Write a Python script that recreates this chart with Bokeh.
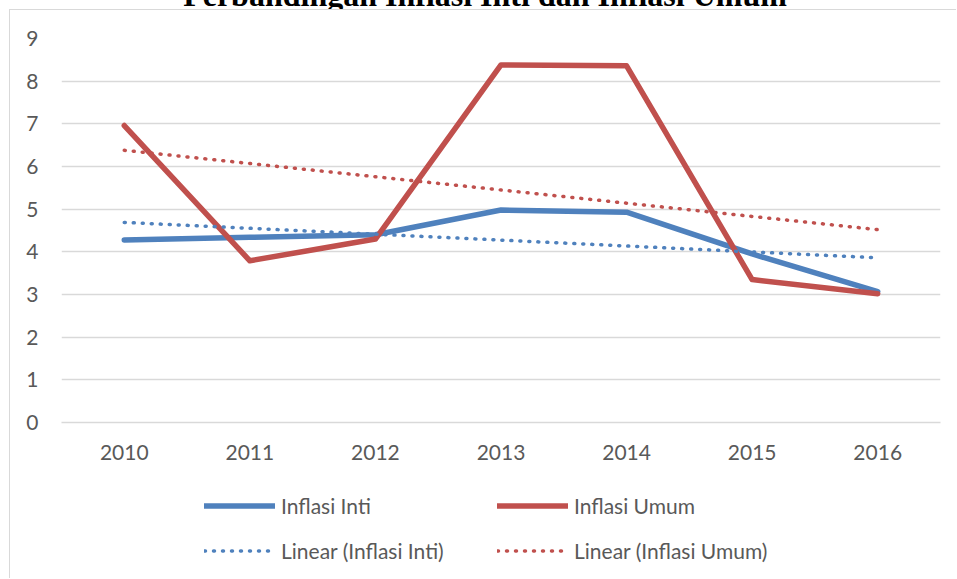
from bokeh.plotting import figure
from bokeh.models import Range1d, Legend, LegendItem, FixedTicker, Div
from bokeh.layouts import column
from bokeh.embed import file_html
from bokeh.resources import INLINE

# ---- data ----
years = ["2010", "2011", "2012", "2013", "2014", "2015", "2016"]
inflasi_inti = [4.28, 4.34, 4.40, 4.98, 4.93, 3.95, 3.07]
inflasi_umum = [6.96, 3.79, 4.30, 8.38, 8.36, 3.35, 3.02]
trend_years = ["2010", "2016"]
trend_inti = [4.69, 3.86]
trend_umum = [6.38, 4.52]
y_ticks = [0, 1, 2, 3, 4, 5, 6, 7, 8, 9]
title_text = "Perbandingan Inflasi Inti dan Inflasi Umum"
labels = ["Inflasi Inti", "Inflasi Umum", "Linear (Inflasi Inti)", "Linear (Inflasi Umum)"]

BLUE = "#4f81bd"
RED = "#c0504d"
GRID = "#d9d9d9"
TXT = "#595959"
FONT = "Lato"
BORDER = "1px solid #d9d9d9"

title_html = (
    '<div style="position:relative; top:-21px; left:0px; width:957px; padding-left:13px; '
    'box-sizing:border-box; text-align:center; white-space:nowrap; '
    'font-family:\'Liberation Serif\'; font-weight:bold; font-size:32px; line-height:32px; color:black;">'
    + title_text + '</div>'
)
title_div = Div(text=title_html, width=957, height=9,
                styles={"overflow": "hidden", "margin": "0", "padding": "0"})

# ---- main chart ----
p = figure(width=947, height=460, x_range=years, y_range=Range1d(0, 9),
           output_backend="svg", toolbar_location=None,
           min_border_left=51, min_border_right=17, min_border_top=28, min_border_bottom=48,
           styles={"margin-left": "9px", "border-left": BORDER, "border-top": BORDER})
p.outline_line_color = None
p.background_fill_color = "white"
p.border_fill_color = "white"

p.xgrid.grid_line_color = None
p.ygrid.grid_line_color = GRID
p.ygrid.grid_line_width = 1.5
p.yaxis.ticker = FixedTicker(ticks=y_ticks)

for ax in (p.xaxis, p.yaxis):
    ax.major_tick_line_color = None
    ax.minor_tick_line_color = None
    ax.major_tick_out = 0
    ax.major_tick_in = 0
    ax.minor_tick_out = 0
    ax.major_label_text_font = FONT
    ax.major_label_text_font_size = "21px"
    ax.major_label_text_color = TXT
p.yaxis.axis_line_color = None
p.xaxis.axis_line_color = GRID
p.xaxis.axis_line_width = 1.5
p.xaxis.major_label_standoff = 22
p.yaxis.major_label_standoff = 23

def draw_series(fig, visible=True):
    a = fig.line(years, inflasi_inti, line_color=BLUE, line_width=5.5,
                 line_cap="round", line_join="round", visible=visible)
    b = fig.line(years, inflasi_umum, line_color=RED, line_width=5.5,
                 line_cap="round", line_join="round", visible=visible)
    c = fig.line(trend_years, trend_inti, line_color=BLUE, line_width=3.5,
                 line_dash="1 8", line_cap="round", visible=visible)
    d = fig.line(trend_years, trend_umum, line_color=RED, line_width=3.5,
                 line_dash="1 8", line_cap="round", visible=visible)
    return a, b, c, d

draw_series(p)

# ---- legend strip (same series, hidden; only the legend shows) ----
pl = figure(width=947, height=109, x_range=years, y_range=Range1d(0, 9),
            output_backend="svg", toolbar_location=None,
            x_axis_location=None, y_axis_location=None,
            min_border=0, min_border_left=0, min_border_right=0,
            min_border_top=0, min_border_bottom=0,
            styles={"margin-left": "9px", "border-left": BORDER})
pl.outline_line_color = None
pl.xgrid.grid_line_color = None
pl.ygrid.grid_line_color = None
ra, rb, rc, rd = draw_series(pl, visible=False)

# column-major fill: column 1 = Inti items, column 2 = Umum items
legend = Legend(items=[LegendItem(label=labels[0], renderers=[ra]),
                       LegendItem(label=labels[2], renderers=[rc]),
                       LegendItem(label=labels[1], renderers=[rb]),
                       LegendItem(label=labels[3], renderers=[rd])],
                ncols=2, location=(143, 5.5),
                glyph_width=71, glyph_height=45, label_height=45, label_width=216,
                label_standoff=6, spacing=0, padding=0, margin=0,
                label_text_font=FONT, label_text_font_size="21px", label_text_color=TXT,
                border_line_color=None, background_fill_alpha=0)
pl.add_layout(legend)

layout = column(title_div, p, pl, spacing=0)

open("out.html", "w").write(file_html(layout, INLINE))
